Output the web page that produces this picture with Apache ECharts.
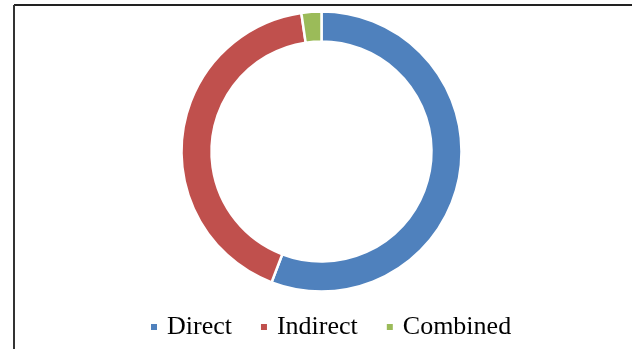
<!DOCTYPE html>
<html>
<head>
<meta charset="utf-8">
<script src="https://cdn.jsdelivr.net/npm/echarts@6/dist/echarts.min.js"></script>
<style>
  html, body { margin: 0; padding: 0; background: #fff; }
  #chart { width: 632px; height: 349px; }
</style>
</head>
<body>
<div id="chart"></div>
<script>
const categories = ["Direct", "Indirect", "Combined"];
const shares = [55.8, 41.9, 2.3];
const colors = ["#4F81BD", "#C0504D", "#9BBB59"];

var myChart = echarts.init(document.getElementById("chart"));
let dataList = [];
categories.forEach((name, i) => {
  dataList.push({ name: name, value: shares[i] });
});
let option = {
  animation: false,
  color: colors,
  legend: {
    data: categories,
    left: 144,
    top: 309,
    icon: "rect",
    itemWidth: 8,
    itemHeight: 8,
    itemGap: 27,
    textStyle: {
      fontFamily: "Liberation Serif",
      fontSize: 26,
      color: "#000",
      padding: [0, 0, 0, 4],
    },
  },
  // frame lines of the original chart box
  graphic: [
    { type: "line", shape: { x1: 14, y1: 5, x2: 632, y2: 5 }, style: { stroke: "#222", lineWidth: 2 } },
    { type: "line", shape: { x1: 14, y1: 5, x2: 14, y2: 349 }, style: { stroke: "#333", lineWidth: 2 } },
  ],
  series: [
    {
      type: "pie",
      center: [321.5, 151.5],
      radius: [110, 140],
      startAngle: 90,
      clockwise: true,
      label: { show: false },
      labelLine: { show: false },
      itemStyle: { borderColor: "#fff", borderWidth: 2.5 },
      emphasis: { disabled: true },
      data: dataList,
    },
  ],
};
myChart.setOption(option);
</script>
</body>
</html>
